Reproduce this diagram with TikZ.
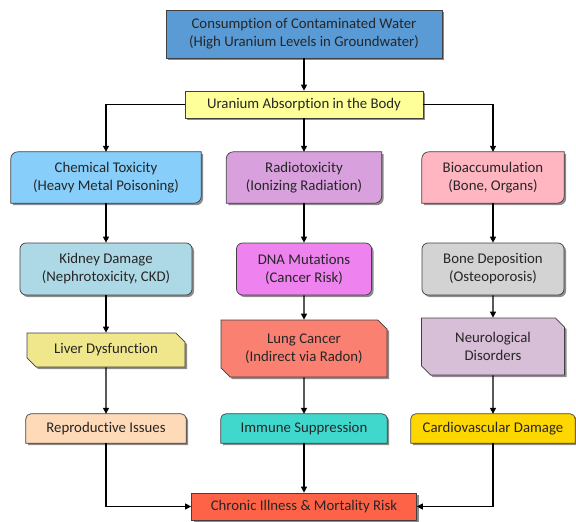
\documentclass[tikz,border=0pt]{standalone}
\usepackage{fontspec}
\setmainfont{Carlito}[Ligatures=NoCommon]
\usetikzlibrary{arrows.meta,shapes.misc,shadows,backgrounds}

\definecolor{waterblue}{HTML}{5B9BD5}
\definecolor{absorbyellow}{HTML}{FFFF99}
\definecolor{chemblue}{HTML}{87CEFA}
\definecolor{radioplum}{HTML}{D8A0DC}
\definecolor{biopink}{HTML}{FFB6C1}
\definecolor{kidneyblue}{HTML}{ADD8E6}
\definecolor{dnaviolet}{HTML}{EE82EE}
\definecolor{bonegray}{HTML}{D3D3D3}
\definecolor{liverkhaki}{HTML}{F0E68C}
\definecolor{lungsalmon}{HTML}{FA8072}
\definecolor{neurothistle}{HTML}{D8BFD8}
\definecolor{repropeach}{HTML}{FFDAB9}
\definecolor{immuneteal}{HTML}{40D8CC}
\definecolor{cardiogold}{HTML}{FFD700}
\definecolor{chronicred}{HTML}{FF6347}

\tikzset{
  boxline/.style={draw=black!75, line width=0.7pt,
    drop shadow={shadow xshift=2pt, shadow yshift=-2pt, opacity=0.45, fill=black}},
  plain/.style={align=center, text=black!85, inner sep=2pt,
    font=\fontsize{14.8}{18}\selectfont},
  box/.style={plain, boxline},
  rbox/.style={box, rounded corners=6pt},
  snipbox/.style={box, chamfered rectangle, chamfered rectangle corners={north east,south west},
    chamfered rectangle xsep=6pt},
  link/.style={line width=1.2pt, -{Triangle[length=6pt,width=6pt]}}
}

% rounded top left and bottom right
\newcommand\diagcorner[2]{%
  \draw[boxline, fill=#2] (#1.south west) -- ([yshift=-7pt]#1.north west)
    arc[start angle=180, end angle=90, radius=7pt] -- (#1.north east)
    -- ([yshift=7pt]#1.south east) arc[start angle=0, end angle=-90, radius=7pt] -- cycle;}
% rounded top corners only
\newcommand\roundtop[2]{%
  \draw[boxline, fill=#2] (#1.south west) -- ([yshift=-5pt]#1.north west)
    arc[start angle=180, end angle=90, radius=5pt] -- ([xshift=-5pt]#1.north east)
    arc[start angle=90, end angle=0, radius=5pt] -- (#1.south east) -- cycle;}

\begin{document}
\begin{tikzpicture}[x=1pt, y=-1pt]
  \useasboundingbox (0,0) rectangle (576,522);

  % Source and absorption
  \node[box, fill=waterblue, minimum width=276pt, minimum height=48pt] (water) at (304,34)
    {Consumption of Contaminated Water\\(High Uranium Levels in Groundwater)};
  \node[box, fill=absorbyellow, minimum width=238pt, minimum height=27pt] (absorb) at (304,104.5)
    {Uranium Absorption in the Body};

  % Pathways
  \node[plain, minimum width=190pt, minimum height=51pt] (chem) at (106,177.5)
    {Chemical Toxicity\\(Heavy Metal Poisoning)};
  \node[plain, minimum width=155pt, minimum height=51pt] (radio) at (304,177.5)
    {Radiotoxicity\\(Ionizing Radiation)};
  \node[plain, minimum width=142pt, minimum height=51pt] (bio) at (493,177.5)
    {Bioaccumulation\\(Bone, Organs)};

  % Direct effects
  \node[rbox, fill=kidneyblue, minimum width=172pt, minimum height=52pt] (kidney) at (106,269)
    {Kidney Damage\\(Nephrotoxicity, CKD)};
  \node[rbox, fill=dnaviolet, minimum width=135pt, minimum height=52pt] (dna) at (304,269)
    {DNA Mutations\\(Cancer Risk)};
  \node[rbox, fill=bonegray, minimum width=142pt, minimum height=52pt] (bone) at (493,269)
    {Bone Deposition\\(Osteoporosis)};

  % Secondary effects
  \node[snipbox, fill=liverkhaki, minimum width=158pt, minimum height=34pt] (liver) at (106,350)
    {Liver Dysfunction};
  \node[snipbox, fill=lungsalmon, minimum width=166pt, minimum height=57pt] (lung) at (304,348.5)
    {Lung Cancer\\(Indirect via Radon)};
  \node[snipbox, fill=neurothistle, minimum width=143pt, minimum height=57pt] (neuro) at (493,346.5)
    {Neurological\\Disorders};

  % Late effects
  \node[plain, minimum width=160pt, minimum height=29pt] (repro) at (106,428.5) {Reproductive Issues};
  \node[plain, minimum width=166pt, minimum height=29pt] (immune) at (304,428.5) {Immune Suppression};
  \node[plain, minimum width=164pt, minimum height=29pt] (cardio) at (493,428.5) {Cardiovascular Damage};

  % Outcome
  \node[box, fill=chronicred, minimum width=225pt, minimum height=27pt] (chronic) at (304,506.5)
    {Chronic Illness \& Mortality Risk};

  \begin{scope}[on background layer]
    \diagcorner{chem}{chemblue}
    \diagcorner{radio}{radioplum}
    \diagcorner{bio}{biopink}
    \roundtop{repro}{repropeach}
    \roundtop{immune}{immuneteal}
    \roundtop{cardio}{cardiogold}
  \end{scope}

  % Connectors
  \draw[link] (water) -- (absorb);
  \draw[link] (absorb.west) -| (chem.north);
  \draw[link] (absorb) -- (radio);
  \draw[link] (absorb.east) -| (bio.north);
  \draw[link] (chem) -- (kidney);
  \draw[link] (kidney) -- (liver);
  \draw[link] (liver) -- (repro);
  \draw[link] (radio) -- (dna);
  \draw[link] (dna) -- (lung);
  \draw[link] (lung) -- (immune);
  \draw[link] (bio) -- (bone);
  \draw[link] (bone) -- (neuro);
  \draw[link] (neuro) -- (cardio);
  \draw[link] (repro.south) |- (chronic.west);
  \draw[link] (immune) -- (chronic);
  \draw[link] (cardio.south) |- (chronic.east);
\end{tikzpicture}
\end{document}
